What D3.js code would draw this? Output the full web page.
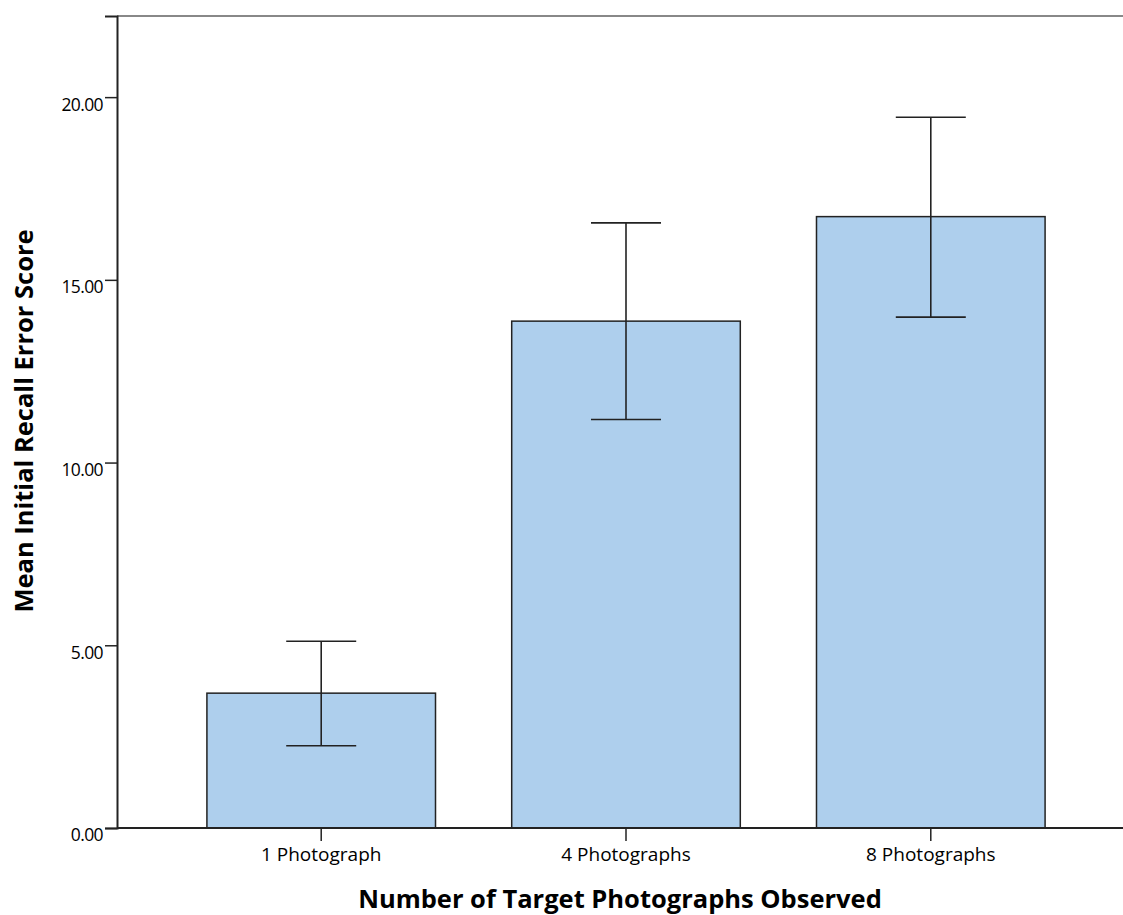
<!DOCTYPE html>
<html><head><meta charset="utf-8">
<script src="https://cdn.jsdelivr.net/npm/d3@7"></script>
<style>body{margin:0;background:#fff}svg{display:block}text{font-family:"Open Sans",sans-serif;fill:#000}</style>
</head><body><svg id="c" width="1123" height="915"></svg>
<script>
const categories = ["1 Photograph", "4 Photographs", "8 Photographs"];
const means = [3.69, 13.87, 16.73];
const errLow = [2.25, 11.18, 13.98];
const errHigh = [5.11, 16.56, 19.45];
const yTicks = [0, 5, 10, 15, 20];
const xTitle = "Number of Target Photographs Observed";
const yTitle = "Mean Initial Recall Error Score";

const svg = d3.select("#c");
const y = d3.scaleLinear().domain([0, 22.22]).range([828, 16]);
const x = d3.scaleBand().domain(categories).range([117, 1135]).paddingInner(0.25).paddingOuter(0.295);

// frame top
svg.append("line").attr("x1",117).attr("x2",1123).attr("y1",16).attr("y2",16).attr("stroke","#888").attr("stroke-width",2);

// bars
svg.selectAll("rect.bar").data(categories).join("rect").attr("class","bar")
  .attr("x", d=>x(d)).attr("width", x.bandwidth())
  .attr("y", (d,i)=>y(means[i])).attr("height",(d,i)=>y(0)-y(means[i]))
  .attr("fill","#aecfed").attr("stroke","#222").attr("stroke-width",1.5);

// error bars
const cap = 70;
categories.forEach((c,i)=>{
  const cx = x(c)+x.bandwidth()/2;
  const g = svg.append("g").attr("stroke","#222").attr("stroke-width",1.6);
  g.append("line").attr("x1",cx).attr("x2",cx).attr("y1",y(errLow[i])).attr("y2",y(errHigh[i]));
  g.append("line").attr("x1",cx-cap/2).attr("x2",cx+cap/2).attr("y1",y(errLow[i])).attr("y2",y(errLow[i]));
  g.append("line").attr("x1",cx-cap/2).attr("x2",cx+cap/2).attr("y1",y(errHigh[i])).attr("y2",y(errHigh[i]));
});

// y axis
const ya = svg.append("g").attr("transform","translate(117,0)")
  .call(d3.axisLeft(y).tickValues(yTicks).tickFormat(d3.format(".2f")).tickSizeOuter(0).tickSize(12).tickPadding(2));
ya.select(".domain").attr("stroke","#222").attr("stroke-width",2);
ya.selectAll(".tick line").attr("stroke","#222").attr("stroke-width",1.5);
ya.selectAll(".tick text").style("font-size","17.5px").style("letter-spacing","-0.6px").style("font-family","'Open Sans',sans-serif").attr("fill","#000").attr("dy","0.74em");

// x axis
const xa = svg.append("g").attr("transform","translate(0,828)")
  .call(d3.axisBottom(x).tickSizeOuter(0).tickSize(13).tickPadding(7));
xa.select(".domain").attr("d","M117,0H1123").attr("stroke","#222").attr("stroke-width",2);
xa.selectAll(".tick line").attr("stroke","#222").attr("stroke-width",1.5);
xa.selectAll(".tick text").style("font-size","19px").style("font-family","'Open Sans',sans-serif").attr("fill","#000");

// titles
svg.append("text").attr("x",620).attr("y",908).attr("text-anchor","middle")
  .style("font-size","25.5px").style("font-weight","bold").text(xTitle);
svg.append("text").attr("transform","translate(33,421) rotate(-90)").attr("text-anchor","middle")
  .style("font-size","25.5px").style("font-weight","bold").text(yTitle);
</script></body></html>
